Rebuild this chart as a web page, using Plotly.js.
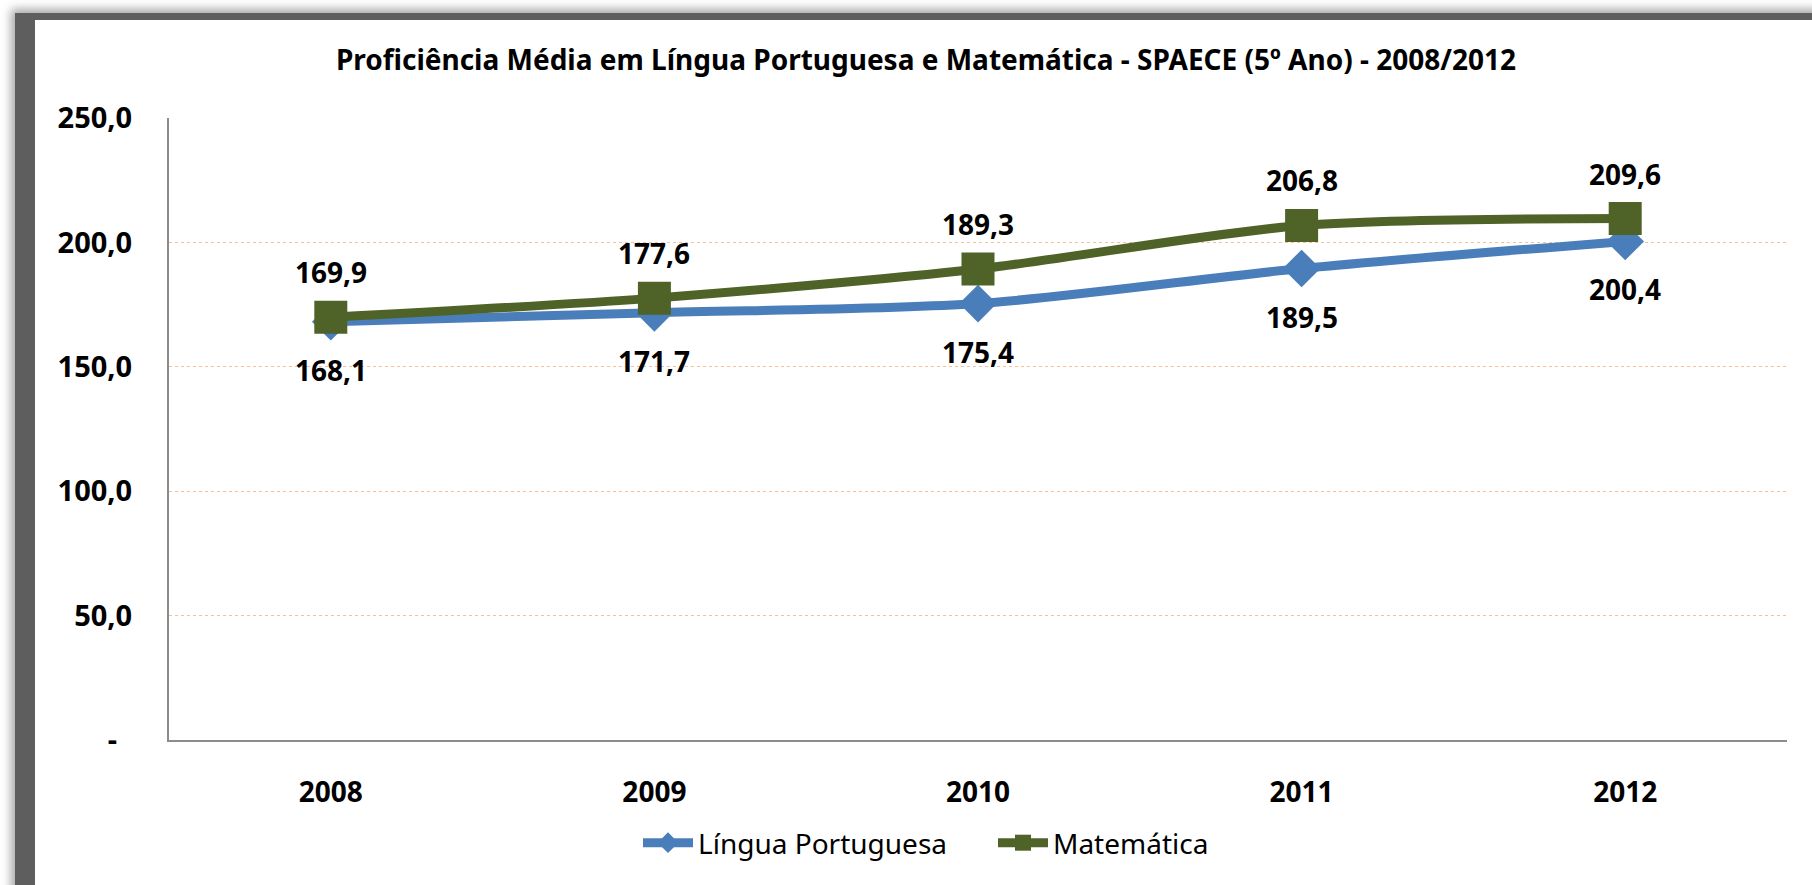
<!DOCTYPE html>
<html>
<head>
<meta charset="utf-8">
<script src="https://cdn.plot.ly/plotly-3.0.1.min.js"></script>
<style>
  html, body { margin: 0; padding: 0; width: 1812px; height: 885px; overflow: hidden; background: #ffffff; }
  #frame { position: absolute; left: 15px; top: 13px; width: 1850px; height: 920px;
           border-left: 20px solid #5e5e5e; border-top: 7px solid #5e5e5e;
           box-shadow: -4px -4px 9px rgba(0,0,0,0.35); background: #ffffff; }
  #chart { position: absolute; left: 0; top: 0; width: 1812px; height: 885px; }
</style>
</head>
<body>
<div id="frame"></div>
<div id="chart"></div>
<script>
const years = ['2008', '2009', '2010', '2011', '2012'];
const portugues = [168.1, 171.7, 175.4, 189.5, 200.4];
const matematica = [169.9, 177.6, 189.3, 206.8, 209.6];
const seriesNames = ['Língua Portuguesa', 'Matemática'];
const yTickVals = [0, 50, 100, 150, 200, 250];
const yTickText = ['-\u00a0\u00a0', '50,0', '100,0', '150,0', '200,0', '250,0'];
const titleText = 'Proficiência Média em Língua Portuguesa e Matemática - SPAECE (5º Ano) - 2008/2012';

const blue = '#4a7ebb';
const green = '#4f6228';
const fmt = v => v.toFixed(1).replace('.', ',');

const traces = [
  {
    x: years, y: portugues, name: seriesNames[0], type: 'scatter', mode: 'lines+markers',
    line: { color: blue, width: 9, shape: 'spline', smoothing: 0.8 },
    marker: { symbol: 'diamond', size: 29, color: blue, line: { width: 0 } },
    hoverinfo: 'skip'
  },
  {
    x: years, y: matematica, name: seriesNames[1], type: 'scatter', mode: 'lines+markers',
    line: { color: green, width: 9, shape: 'spline', smoothing: 0.8 },
    marker: { symbol: 'square', size: 33, color: green, line: { width: 0 } },
    hoverinfo: 'skip'
  }
];

const annotations = [];
years.forEach((yr, i) => {
  annotations.push({ x: i, y: matematica[i], xref: 'x', yref: 'y', text: '<b>' + fmt(matematica[i]) + '</b>',
    showarrow: false, yshift: 45, font: { family: 'Noto Sans', size: 28, color: '#000000' } });
  annotations.push({ x: i, y: portugues[i], xref: 'x', yref: 'y', text: '<b>' + fmt(portugues[i]) + '</b>',
    showarrow: false, yshift: -48, font: { family: 'Noto Sans', size: 28, color: '#000000' } });
});

const layout = {
  width: 1812, height: 885,
  paper_bgcolor: 'rgba(0,0,0,0)', plot_bgcolor: 'rgba(0,0,0,0)',
  margin: { l: 169, r: 25, t: 118, b: 145 },
  separators: ',.',
  font: { family: 'Noto Sans', color: '#000000' },
  title: {
    text: '<b>' + titleText + '</b>',
    font: { family: 'Noto Sans', size: 28, color: '#000000' },
    x: 0.511, xref: 'container', xanchor: 'center',
    y: 1 - 60 / 885, yref: 'container', yanchor: 'middle'
  },
  xaxis: {
    type: 'category', range: [-0.5, 4.5],
    showgrid: false, zeroline: false,
    showline: true, linecolor: '#8c8c8c', linewidth: 2,
    ticks: '', ticklabelstandoff: 26,
    tickfont: { family: 'Noto Sans', size: 28, color: '#000000', weight: 'bold' }
  },
  yaxis: {
    range: [0, 250], tickvals: yTickVals, ticktext: yTickText,
    showgrid: true, gridcolor: '#f5c09a', griddash: 'dot', gridwidth: 1,
    zeroline: false, showline: true, linecolor: '#8c8c8c', linewidth: 2,
    ticks: '', ticklabelstandoff: 29,
    tickfont: { family: 'Noto Sans', size: 29, color: '#000000', weight: 'bold' }
  },
  showlegend: true,
  legend: {
    orientation: 'h', x: (638 - 169) / 1618, xanchor: 'left',
    y: -(843 - 740) / 622, yanchor: 'middle',
    font: { family: 'Noto Sans', size: 28, color: '#000000' },
    itemwidth: 50, entrywidth: 290, bgcolor: 'rgba(0,0,0,0)'
  },
  annotations: annotations
};

Plotly.newPlot('chart', traces, layout, { staticPlot: true, displayModeBar: false });
</script>
</body>
</html>
